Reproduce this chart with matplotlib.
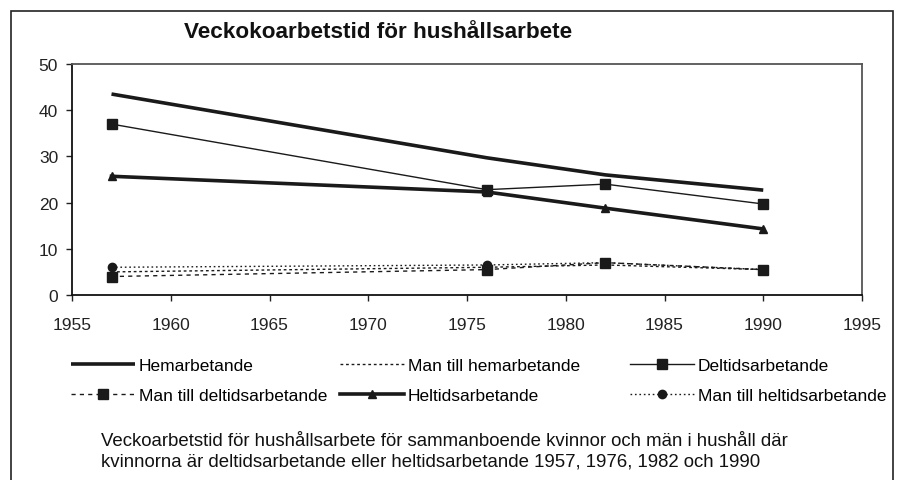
import matplotlib
matplotlib.use("Agg")
import matplotlib.pyplot as plt
from matplotlib.patches import Rectangle

plt.rcParams['font.family'] = ['Liberation Sans', 'DejaVu Sans']

years = [1957, 1976, 1982, 1990]
hemarbetande = [43.5, 29.7, 26.0, 22.7]
man_hem = [5.0, 6.0, 6.5, 5.5]
deltid = [37.0, 22.8, 24.0, 19.7]
man_deltid = [4.0, 5.5, 7.0, 5.5]
heltid = [25.7, 22.3, 18.8, 14.3]
man_heltid = [6.0, 6.5, 7.0, 5.5]

xticks = [1955, 1960, 1965, 1970, 1975, 1980, 1985, 1990, 1995]
yticks = [0, 10, 20, 30, 40, 50]

title = "Veckokoarbetstid för hushållsarbete"
caption = ("Veckoarbetstid för hushållsarbete för sammanboende kvinnor och män i hushåll där\n"
           "kvinnorna är deltidsarbetande eller heltidsarbetande 1957, 1976, 1982 och 1990")

W, H = 904, 481
fig = plt.figure(figsize=(W / 100, H / 100), dpi=100)
ax = fig.add_axes([72 / W, 1 - 296 / H, (862 - 72) / W, (296 - 65) / H])

c = '#1a1a1a'
l_hem, = ax.plot(years, hemarbetande, color=c, lw=2.6, solid_capstyle='butt')
l_mhem, = ax.plot(years, man_hem, color=c, lw=1.0, linestyle=(0, (2, 2)))
l_del, = ax.plot(years, deltid, color=c, lw=1.0, marker='s', markersize=7)
l_mdel, = ax.plot(years, man_deltid, color=c, lw=1.0, linestyle=(0, (3, 3)),
                  marker='s', markersize=7)
l_hel, = ax.plot(years, heltid, color=c, lw=2.6, marker='^', markersize=6)
l_mhel, = ax.plot(years, man_heltid, color=c, lw=1.0, linestyle=(0, (1.2, 2)),
                  marker='o', markersize=6)

ax.set_xlim(1955, 1995)
ax.set_ylim(0, 50)
ax.set_xticks(xticks)
ax.set_yticks(yticks)
ax.tick_params(axis='both', direction='out', length=4, width=1, labelsize=12.5,
               colors='#222')
ax.tick_params(axis='x', pad=12)
ax.tick_params(axis='y', pad=6)
for s in ['left', 'bottom']:
    ax.spines[s].set_color('#111')
    ax.spines[s].set_linewidth(1.3)
for s in ['top', 'right']:
    ax.spines[s].set_color('#555')
    ax.spines[s].set_linewidth(1.3)

fig.text(378 / W, 1 - 33 / H, title, ha='center', va='center', fontsize=16.2,
         fontweight='bold', color='#111')

columns = [
    ([l_hem, l_mdel], ["Hemarbetande", "Man till deltidsarbetande"], 71),
    ([l_mhem, l_hel], ["Man till hemarbetande", "Heltidsarbetande"], 340),
    ([l_del, l_mhel], ["Deltidsarbetande", "Man till heltidsarbetande"], 630),
]
for hs, ls, x0 in columns:
    fig.legend(hs, ls, ncol=1, loc='upper left',
               bbox_to_anchor=(x0 / W, 1 - 359 / H), frameon=False,
               fontsize=12.5, handlelength=3.7, handletextpad=0.2,
               labelspacing=0.83, borderaxespad=0, borderpad=0)

fig.text(101 / W, 1 - 452 / H, caption, ha='left', va='center', fontsize=13.4,
         color='#111', linespacing=1.3)

fig.patches.append(Rectangle((11 / W, -0.05), (893 - 11) / W, 1 - 12 / H + 0.05,
                             transform=fig.transFigure, fill=False,
                             edgecolor='#222', lw=1.2))

fig.savefig('out.png', dpi=100)
